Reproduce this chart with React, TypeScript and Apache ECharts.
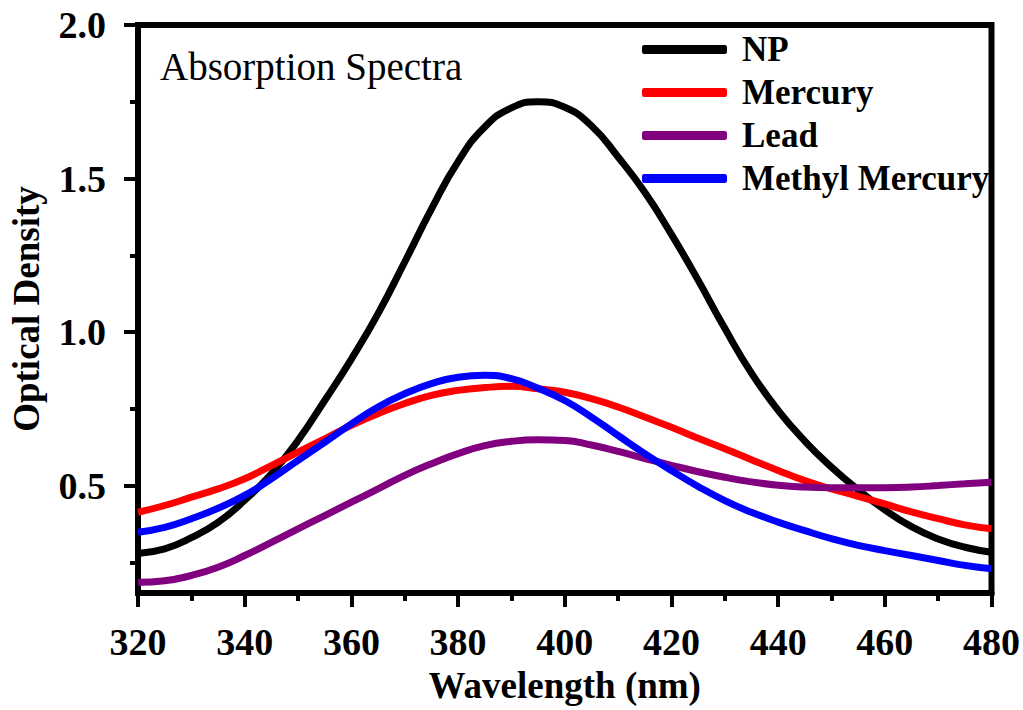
import React, { useEffect, useRef } from "react";
import * as echarts from "echarts";

const wavelengths = [320, 325, 330, 335, 340, 345, 350, 355, 360, 365, 370, 375, 380, 385, 390, 395, 400, 405, 410, 415, 420, 425, 430, 435, 440, 445, 450, 455, 460, 465, 470, 475, 480];
const npValues = [0.279, 0.294, 0.33, 0.38, 0.452, 0.538, 0.647, 0.777, 0.912, 1.06, 1.228, 1.4, 1.555, 1.668, 1.73, 1.75, 1.732, 1.672, 1.57, 1.455, 1.318, 1.169, 1.012, 0.866, 0.745, 0.645, 0.56, 0.486, 0.421, 0.366, 0.326, 0.299, 0.283];
const mercuryValues = [0.413, 0.435, 0.462, 0.489, 0.522, 0.565, 0.609, 0.652, 0.696, 0.734, 0.767, 0.794, 0.81, 0.819, 0.823, 0.815, 0.804, 0.783, 0.756, 0.723, 0.69, 0.654, 0.62, 0.584, 0.549, 0.516, 0.489, 0.465, 0.44, 0.414, 0.392, 0.372, 0.359];
const leadValues = [0.185, 0.19, 0.207, 0.234, 0.272, 0.315, 0.359, 0.402, 0.446, 0.489, 0.533, 0.571, 0.604, 0.63, 0.644, 0.649, 0.647, 0.632, 0.611, 0.588, 0.566, 0.545, 0.527, 0.512, 0.501, 0.495, 0.493, 0.493, 0.493, 0.495, 0.5, 0.506, 0.511];
const methylValues = [0.348, 0.364, 0.392, 0.426, 0.468, 0.522, 0.582, 0.641, 0.701, 0.756, 0.799, 0.832, 0.853, 0.859, 0.848, 0.817, 0.777, 0.723, 0.663, 0.604, 0.549, 0.497, 0.451, 0.413, 0.381, 0.353, 0.327, 0.305, 0.288, 0.272, 0.256, 0.24, 0.229];

const seriesNames = ["NP", "Mercury", "Lead", "Methyl Mercury"];
const seriesColors = ["#000000", "#ff0000", "#800080", "#0000ff"];
const seriesValues = [npValues, mercuryValues, leadValues, methylValues];

const yMajorTicks = [0.5, 1.0, 1.5, 2.0];
const yMinorTicks = [0.25, 0.75, 1.25, 1.75];

const FONT = '"Liberation Serif", "Times New Roman", serif';

export default function App() {
  const ref = useRef<HTMLDivElement>(null);

  useEffect(() => {
    if (!ref.current) return;
    const chart = echarts.init(ref.current, null, { renderer: "svg" });
    const option: any = {
      animation: false,
      backgroundColor: "#ffffff",
      grid: {
        left: 136,
        right: 30,
        top: 25,
        bottom: 117,
        show: true,
        borderColor: "#000",
        borderWidth: 6,
        backgroundColor: "transparent",
      },
      xAxis: {
        type: "value",
        min: 320,
        max: 480,
        interval: 20,
        name: "Wavelength (nm)",
        nameLocation: "middle",
        nameGap: 74,
        nameTextStyle: { fontFamily: FONT, fontWeight: "bold", fontSize: 37, color: "#000" },
        axisLine: { show: true, onZero: false, lineStyle: { color: "#000", width: 6 } },
        axisTick: { show: true, length: 14, lineStyle: { color: "#000", width: 4 } },
        minorTick: { show: true, splitNumber: 2, length: 8, lineStyle: { color: "#000", width: 4 } },
        axisLabel: { margin: 30, fontFamily: FONT, fontWeight: "bold", fontSize: 38, color: "#000" },
        splitLine: { show: false },
      },
      yAxis: [
        {
          type: "value",
          min: 0.15,
          max: 2.0,
          position: "left",
          name: "Optical Density",
          nameLocation: "middle",
          nameGap: 93,
          nameTextStyle: { fontFamily: FONT, fontWeight: "bold", fontSize: 37, color: "#000" },
          axisLine: { show: true, onZero: false, lineStyle: { color: "#000", width: 6 } },
          axisTick: { show: true, length: 14, customValues: yMajorTicks, lineStyle: { color: "#000", width: 4 } },
          axisLabel: {
            margin: 32,
            customValues: yMajorTicks,
            formatter: (v: number) => v.toFixed(1),
            fontFamily: FONT,
            fontWeight: "bold",
            fontSize: 38,
            color: "#000",
          },
          splitLine: { show: false },
        },
        {
          type: "value",
          min: 0.15,
          max: 2.0,
          position: "left",
          offset: 0,
          axisLine: { show: false },
          axisTick: { show: true, length: 8, customValues: yMinorTicks, lineStyle: { color: "#000", width: 4 } },
          axisLabel: { show: false },
          splitLine: { show: false },
        },
      ],
      legend: {
        orient: "vertical",
        left: 642,
        top: 32,
        padding: 0,
        itemGap: 8,
        itemWidth: 85,
        itemHeight: 9,
        icon: "roundRect",
        data: seriesNames,
        textStyle: {
          fontFamily: FONT,
          fontWeight: "bold",
          fontSize: 35,
          color: "#000",
          padding: [0, 0, 0, 10],
        },
      },
      graphic: [
        {
          type: "text",
          left: 160,
          top: 47,
          style: { text: "Absorption Spectra", fontFamily: FONT, fontSize: 39, fill: "#000" },
        },
      ],
      series: seriesNames.map((name, i) => ({
        name,
        type: "line",
        yAxisIndex: 0,
        smooth: 0.5,
        symbol: "none",
        color: seriesColors[i],
        lineStyle: { width: 7, color: seriesColors[i] },
        data: wavelengths.map((w, j) => [w, seriesValues[i][j]]),
      })),
    };
    chart.setOption(option);
    return () => chart.dispose();
  }, []);

  return (
    <div
      ref={ref}
      style={{ position: "fixed", left: 0, top: 0, width: 1023, height: 710, background: "#fff" }}
    />
  );
}
